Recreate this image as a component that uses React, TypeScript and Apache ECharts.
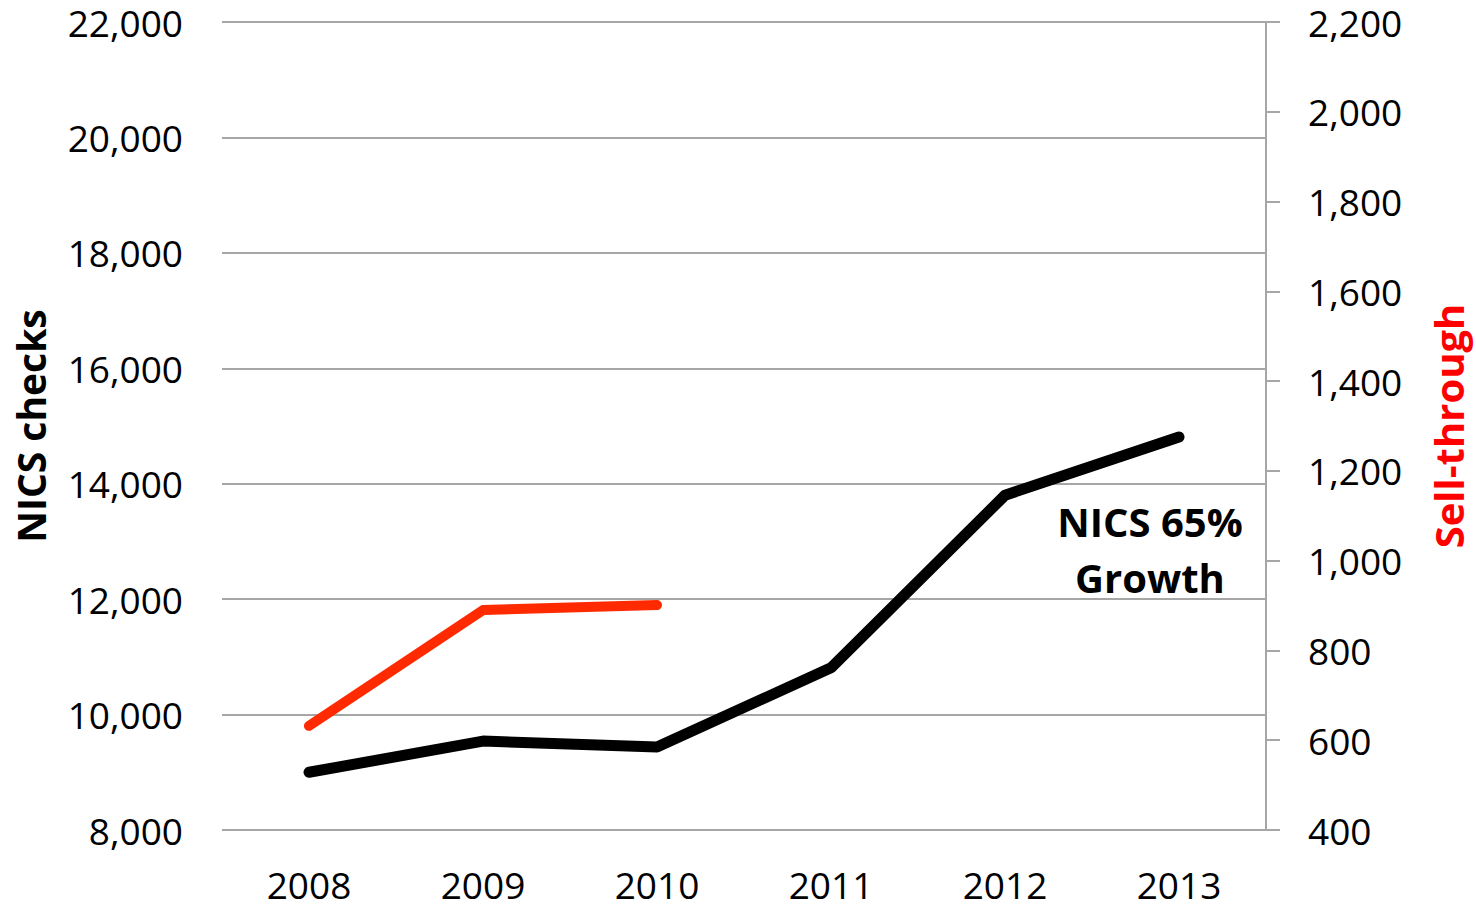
import React, { useEffect, useRef } from "react";
import * as echarts from "echarts";

const years = ["2008", "2009", "2010", "2011", "2012", "2013"];
const nicsChecks = [9000, 9540, 9440, 10810, 13800, 14810];
const sellThrough = [632, 890, 901];
const annotationLines = ["NICS 65%", "Growth"];

const FONT = "'Open Sans', 'DejaVu Sans', sans-serif";
const fmt = (v: number) => v.toLocaleString("en-US");

export default function App() {
  const ref = useRef<HTMLDivElement>(null);
  useEffect(() => {
    if (!ref.current) return;
    const chart = echarts.init(ref.current, undefined, { renderer: "svg" });
    chart.setOption({
      animation: false,
      backgroundColor: "#ffffff",
      grid: { left: 222, right: 208, top: 22, bottom: 76, containLabel: false },
      xAxis: {
        type: "category",
        data: years,
        boundaryGap: true,
        axisLine: { show: false },
        axisTick: { show: false },
        axisLabel: { color: "#000", fontFamily: FONT, fontSize: 37, lineHeight: 30, margin: 39 },
      },
      yAxis: [
        {
          type: "value",
          min: 8000,
          max: 22000,
          interval: 2000,
          name: "NICS checks",
          nameLocation: "middle",
          nameGap: 172,
          nameRotate: 90,
          nameTextStyle: { color: "#000", fontFamily: FONT, fontSize: 39, fontWeight: "bold" },
          axisLine: { show: false },
          axisTick: { show: false },
          axisLabel: { color: "#000", fontFamily: FONT, fontSize: 37, lineHeight: 30, margin: 39, formatter: fmt },
          splitLine: { show: true, lineStyle: { color: "#a6a6a6", width: 2 } },
        },
        {
          type: "value",
          min: 400,
          max: 2200,
          interval: 200,
          position: "right",
          name: "Sell-through",
          nameLocation: "middle",
          nameGap: 162,
          nameRotate: 90,
          nameTextStyle: { color: "#ff0000", fontFamily: FONT, fontSize: 40, fontWeight: "bold" },
          axisLine: { show: true, lineStyle: { color: "#a6a6a6", width: 2 } },
          axisTick: { show: true, length: 14, lineStyle: { color: "#a6a6a6", width: 2 } },
          axisLabel: { color: "#000", fontFamily: FONT, fontSize: 37, lineHeight: 30, margin: 42, formatter: fmt },
          splitLine: { show: false },
        },
      ],
      series: [
        {
          name: "NICS checks",
          type: "line",
          yAxisIndex: 0,
          data: nicsChecks,
          showSymbol: false,
          symbol: "none",
          lineStyle: { color: "#000000", width: 11, cap: "round", join: "round" },
          z: 3,
        },
        {
          name: "Sell-through",
          type: "line",
          yAxisIndex: 1,
          data: sellThrough,
          showSymbol: false,
          symbol: "none",
          lineStyle: { color: "#ff2a00", width: 10, cap: "round", join: "round" },
          z: 4,
        },
      ],
      graphic: [
        {
          type: "text",
          x: 1150,
          y: 549,
          style: {
            text: annotationLines.join("\n"),
            fill: "#000",
            font: `bold 40px ${FONT}`,
            lineHeight: 56,
            align: "center",
            verticalAlign: "middle",
          },
          z: 10,
        },
      ],
    });
    return () => chart.dispose();
  }, []);
  return (
    <div
      ref={ref}
      style={{ position: "fixed", left: 0, top: 0, width: 1476, height: 906 }}
    />
  );
}
